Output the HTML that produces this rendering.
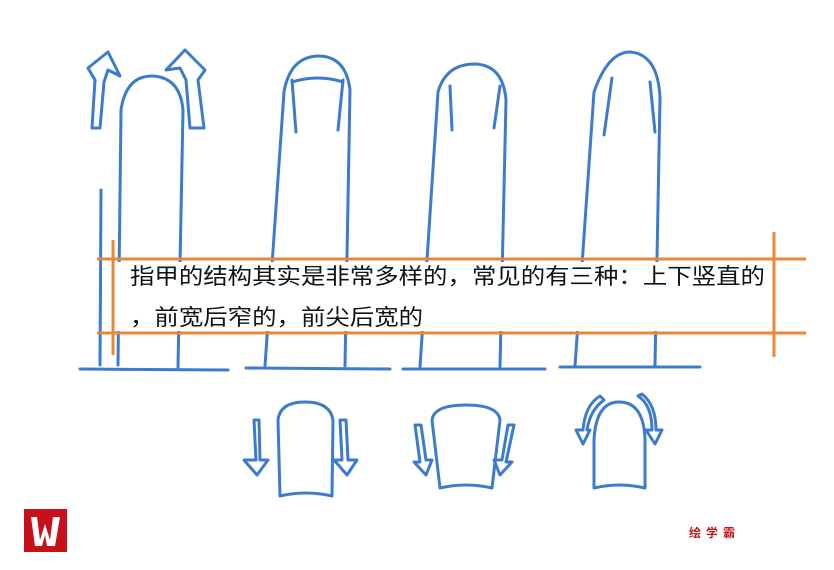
<!DOCTYPE html>
<html><head><meta charset="utf-8"><style>
body{margin:0;width:834px;height:570px;background:#fff;position:relative;overflow:hidden;font-family:"Liberation Sans","Noto Sans CJK SC",sans-serif}
svg{position:absolute;left:0;top:0}
.t{position:absolute;left:130px;font-size:22px;line-height:26px;color:#111;white-space:nowrap;transform:scaleX(1.11);transform-origin:0 0}
</style></head><body>
<svg width="834" height="570" viewBox="0 0 834 570">
<g fill="none" stroke="#3d7bcc" stroke-width="3" stroke-linecap="round" stroke-linejoin="round">
<path d="M80,369 L228,370"/><path d="M246,368 L390,369"/><path d="M403,369 L545,369"/><path d="M560,367 L700,367"/>
<path d="M100,365 L101,190"/>
<path d="M118,365 L121,110 Q126,76 152,76 Q180,77 183,110 L178,367"/>
<path d="M92,128 L95,80 L88,68 L108,52 L120,76 L108,70 L104,82 L100,128 Z"/>
<path d="M204,128 L198,80 L205,70 L185,50 L166,70 L180,68 L186,80 L190,128 Z"/>
<path d="M265,366 L284,92 Q290,57 318,56 Q346,56 350,90 L345,366"/>
<path d="M292,80 L296,132"/><path d="M343,80 L338,130"/>
<path d="M292,82 Q318,74 343,82"/>
<path d="M420,367 L438,92 Q446,64 475,64 Q503,65 506,100 L500,367"/>
<path d="M450,86 L452,130"/><path d="M500,86 L494,128"/>
<path d="M575,366 L594,92 Q608,52 630,52 Q658,54 660,98 L655,366"/>
<path d="M612,78 L604,135"/><path d="M650,82 L655,132"/>
<path d="M280,496 L278,420 Q280,402 305,402 Q330,402 333,420 L332,496 Q306,490 280,496 Z"/>
<path d="M254,420 L256,460 L244,460 L257,475 L268,460 L260,460 L259,420 Z"/>
<path d="M340,420 L342,460 L334,460 L347,475 L357,460 L348,460 L346,420 Z"/>
<path d="M440,488 L432,420 Q434,405 466,405 Q498,405 500,420 L492,488 Q466,482 440,488 Z"/>
<path d="M415,425 L420,462 L414,462 L426,475 L432,460 L426,460 L421,425 Z"/>
<path d="M508,425 L502,460 L494,460 L500,475 L512,462 L506,462 L514,425 Z"/>
<path d="M594,488 L594,440 Q596,402 619,402 Q644,402 645,440 L645,488 Q620,482 594,488 Z"/>
<path d="M600,396 Q585,405 583,430 L576,430 L583,444 L590,430 L587,430 Q590,410 604,400 Z"/>
<path d="M638,396 Q652,405 652,430 L646,430 L655,444 L662,430 L656,430 Q656,405 642,394 Z"/>
</g>
<rect x="102" y="262" width="672" height="69" fill="#fff"/>
<g stroke="#e8873a" stroke-width="3" fill="none">
<path d="M97,259 L806,259"/><path d="M97,333 L806,333"/>
<path d="M113,240 L113,355"/><path d="M774,232 L774,357"/>
</g>
<rect x="24" y="509" width="43" height="43" fill="#c8101a"/>
<path d="M31,517 L37,517 L40,540 L45,524 L50,540 L53,517 L60,517 L55,546 L47,546 L45,535 L42,546 L35,546 Z" fill="#fff"/>
</svg>
<div class="t" style="top:264px">指甲的结构其实是非常多样的，常见的有三种：上下竖直的</div>
<div class="t" style="top:305px">，前宽后窄的，前尖后宽的</div>
<div style="position:absolute;left:689px;top:524px;font-size:12px;font-weight:bold;color:#c8101a;letter-spacing:5px">绘学霸</div>
</body></html>
